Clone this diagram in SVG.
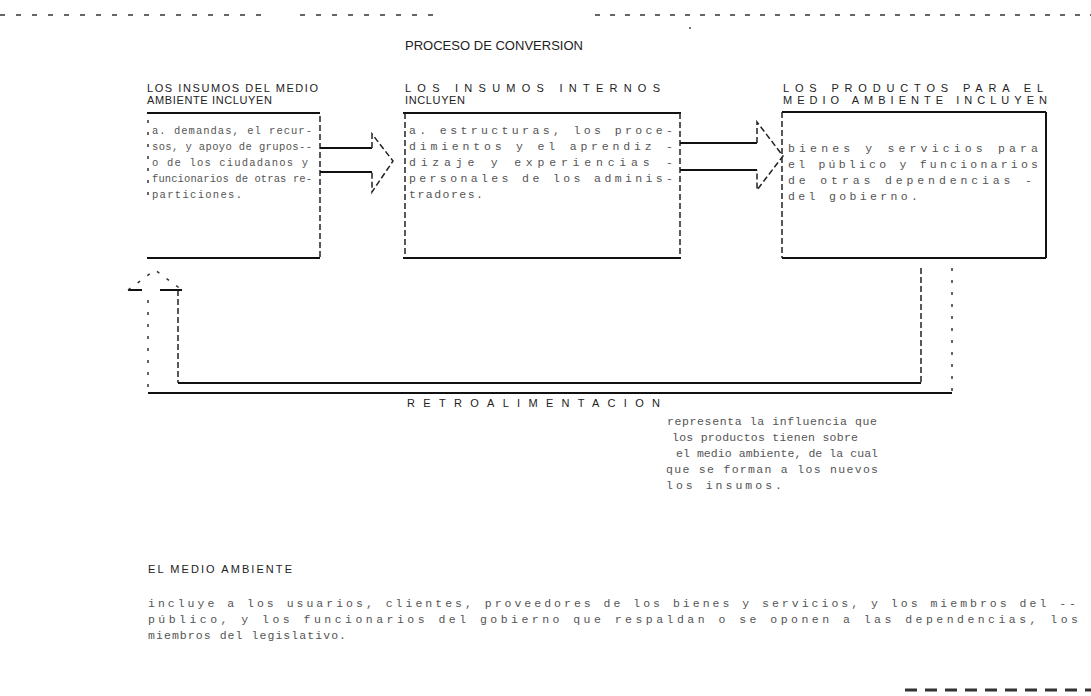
<svg xmlns="http://www.w3.org/2000/svg" width="1091" height="696" viewBox="0 0 1091 696">
<style>
.hd{font-family:"Liberation Sans",Arial,sans-serif;font-size:11px;fill:#222;}
.tt{font-family:"Liberation Sans",Arial,sans-serif;font-size:13px;fill:#222;}
.tx{font-family:"Liberation Mono","Courier New",monospace;font-size:11.5px;fill:#555;}
.sm{font-size:10.5px;}
.solid{stroke:#111;stroke-width:2;fill:none;}
.dash{stroke:#222;stroke-width:1.5;fill:none;stroke-dasharray:6 3;}
.sparse{stroke:#333;stroke-width:1.5;fill:none;stroke-dasharray:3 9;}
</style>
<rect width="1091" height="696" fill="#fff"/>
<g id="scan-marks">
<line x1="0" y1="15" x2="270" y2="15" stroke="#666" stroke-width="2" stroke-dasharray="5 11"/>
<line x1="300" y1="15" x2="440" y2="15" stroke="#666" stroke-width="2" stroke-dasharray="5 11"/>
<line x1="595" y1="15" x2="1091" y2="15" stroke="#666" stroke-width="2" stroke-dasharray="5 10"/>
<circle cx="690" cy="28" r="1" fill="#444"/>
<line x1="905" y1="690" x2="1091" y2="690" stroke="#333" stroke-width="3" stroke-dasharray="12 8"/>
</g>
<g id="title">
<text class="tt" x="405" y="50" textLength="178" lengthAdjust="spacing">PROCESO DE CONVERSION</text>
</g>
<g id="insumos-medio">
<text class="hd" x="147" y="92" textLength="171" lengthAdjust="spacing">LOS INSUMOS DEL MEDIO</text>
<text class="hd" x="147" y="104" textLength="125" lengthAdjust="spacing">AMBIENTE INCLUYEN</text>
<line class="solid" x1="147" y1="113" x2="320" y2="113"/>
<line class="solid" x1="147" y1="258" x2="320" y2="258"/>
<line class="sparse" x1="148" y1="120" x2="148" y2="200"/>
<line class="dash" x1="320" y1="116" x2="320" y2="258"/>
<text class="tx sm" x="152" y="134" textLength="160" lengthAdjust="spacing">a. demandas, el recur-</text>
<text class="tx sm" x="152" y="150" textLength="160" lengthAdjust="spacing">sos, y apoyo de grupos--</text>
<text class="tx sm" x="152" y="166" textLength="156" lengthAdjust="spacing">o de los ciudadanos y</text>
<text class="tx sm" x="152" y="182" textLength="160" lengthAdjust="spacing">funcionarios de otras re-</text>
<text class="tx sm" x="152" y="198" textLength="90" lengthAdjust="spacing">particiones.</text>
</g>
<g id="insumos-internos">
<text class="hd" x="405" y="92" textLength="255" lengthAdjust="spacing">LOS INSUMOS INTERNOS</text>
<text class="hd" x="405" y="104" textLength="60" lengthAdjust="spacing">INCLUYEN</text>
<line class="solid" x1="403" y1="113" x2="681" y2="113"/>
<line class="solid" x1="403" y1="258" x2="681" y2="258"/>
<line class="dash" x1="405" y1="113" x2="405" y2="258"/>
<line class="dash" x1="680" y1="113" x2="680" y2="258"/>
<text class="tx" x="409" y="134" textLength="264" lengthAdjust="spacing">a. estructuras, los proce-</text>
<text class="tx" x="409" y="150" textLength="264" lengthAdjust="spacing">dimientos y el aprendiz -</text>
<text class="tx" x="409" y="166" textLength="264" lengthAdjust="spacing">dizaje y experiencias -</text>
<text class="tx" x="409" y="182" textLength="264" lengthAdjust="spacing">personales de los adminis-</text>
<text class="tx" x="409" y="198" textLength="74" lengthAdjust="spacing">tradores.</text>
</g>
<g id="productos">
<text class="hd" x="783" y="92" textLength="260" lengthAdjust="spacing">LOS PRODUCTOS PARA EL</text>
<text class="hd" x="783" y="104" textLength="264" lengthAdjust="spacing">MEDIO AMBIENTE INCLUYEN</text>
<line class="solid" x1="782" y1="112" x2="1046" y2="112"/>
<line class="solid" x1="782" y1="258" x2="1046" y2="258"/>
<line class="dash" x1="782" y1="112" x2="782" y2="258"/>
<line class="solid" x1="1046" y1="112" x2="1046" y2="258"/>
<text class="tx" x="788" y="152" textLength="250" lengthAdjust="spacing">bienes y servicios para</text>
<text class="tx" x="788" y="168" textLength="250" lengthAdjust="spacing">el público y funcionarios</text>
<text class="tx" x="788" y="184" textLength="244" lengthAdjust="spacing">de otras dependencias -</text>
<text class="tx" x="788" y="200" textLength="130" lengthAdjust="spacing">del gobierno.</text>
</g>
<g id="connectors">
<g id="arrow-1">
<line class="solid" x1="320" y1="148" x2="372" y2="148"/>
<line class="solid" x1="320" y1="172" x2="372" y2="172"/>
<polyline class="dash" points="372,148 372,134 393,161 372,192 372,172"/>
</g>
<g id="arrow-2">
<line class="solid" x1="680" y1="143" x2="757" y2="143"/>
<line class="solid" x1="680" y1="170" x2="757" y2="170"/>
<polyline class="dash" points="757,143 757,122 783,156 757,190 757,170"/>
</g>
<g id="feedback">
<line class="dash" x1="921" y1="268" x2="921" y2="383"/>
<line class="sparse" x1="952" y1="268" x2="952" y2="393"/>
<line class="solid" x1="178" y1="383" x2="921" y2="383"/>
<line class="solid" x1="148" y1="393" x2="952" y2="393"/>
<line class="dash" x1="178" y1="290" x2="178" y2="383"/>
<line class="sparse" x1="148" y1="300" x2="148" y2="393"/>
<line class="solid" x1="128" y1="290" x2="142" y2="290"/>
<line class="solid" x1="160" y1="290" x2="182" y2="290"/>
<polyline class="sparse" points="128,290 155,270 182,290"/>
</g>
</g>
<g id="retroalimentacion">
<text class="hd" x="407" y="407" textLength="253" lengthAdjust="spacing">RETROALIMENTACION</text>
</g>
<g id="note">
<text class="tx" x="667" y="425" textLength="210" lengthAdjust="spacing">representa la influencia que</text>
<text class="tx" x="672" y="441" textLength="186" lengthAdjust="spacing">los productos tienen sobre</text>
<text class="tx" x="676" y="457" textLength="202" lengthAdjust="spacing">el medio ambiente, de la cual</text>
<text class="tx" x="666" y="473" textLength="212" lengthAdjust="spacing">que se forman a los nuevos</text>
<text class="tx" x="666" y="489" textLength="116" lengthAdjust="spacing">los insumos.</text>
</g>
<g id="medio-ambiente">
<text class="hd" x="148" y="573" textLength="144" lengthAdjust="spacing">EL MEDIO AMBIENTE</text>
<text class="tx" x="148" y="607" textLength="928" lengthAdjust="spacing">incluye a los usuarios, clientes, proveedores de los bienes y servicios, y los miembros del --</text>
<text class="tx" x="148" y="623" textLength="930" lengthAdjust="spacing">público, y los funcionarios del gobierno que respaldan o se oponen a las dependencias, los</text>
<text class="tx" x="148" y="639" textLength="198" lengthAdjust="spacing">miembros del legislativo.</text>
</g>
</svg>
